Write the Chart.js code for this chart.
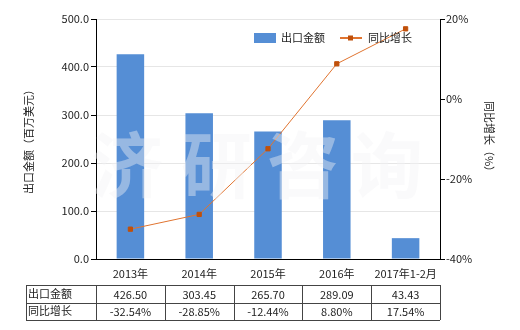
<!DOCTYPE html>
<html lang="zh">
<head>
    <meta charset="UTF-8">
    <script src="https://cdn.jsdelivr.net/npm/chart.js@4.4.0/dist/chart.umd.min.js"></script>
    <title>出口金额 / 同比增长</title>
    <style>
        html, body { margin: 0; padding: 0; background: #fff; }
        #wrap { width: 520px; height: 330px; }
    </style>
</head>
<body>
    <div id="wrap"><canvas id="chart" width="520" height="330"></canvas></div>
    <script>
        // data
        const years = ['2013年', '2014年', '2015年', '2016年', '2017年1-2月'];
        const exportValue = [426.50, 303.45, 265.70, 289.09, 43.43];
        const yoyGrowth = [-32.54, -28.85, -12.44, 8.80, 17.54];
        const valueLabels = ['426.50', '303.45', '265.70', '289.09', '43.43'];
        const growthLabels = ['-32.54%', '-28.85%', '-12.44%', '8.80%', '17.54%'];

        const FONT = "'Noto Sans CJK SC', 'DejaVu Sans', sans-serif";
        const BAR = '#558ED5';
        const LINE = '#E07430';
        const DOT = '#C0500A';

        // big faint watermark
        const watermark = {
            id: 'watermark',
            afterDatasetsDraw(chart) {
                const ctx = chart.ctx;
                ctx.save();
                ctx.font = 'bold 72px ' + FONT;
                ctx.fillStyle = 'rgba(242,242,245,0.42)';
                ctx.textAlign = 'center';
                ctx.textBaseline = 'middle';
                const xs = [127, 217, 303, 387];
                '济研咨询'.split('').forEach((c, i) => ctx.fillText(c, xs[i], 165));
                ctx.restore();
            }
        };

        // legend + data table under the chart
        const extras = {
            id: 'extras',
            afterDraw(chart) {
                const ctx = chart.ctx;
                const x = chart.scales.x;
                ctx.save();
                ctx.font = '11px ' + FONT;
                ctx.textBaseline = 'middle';
                ctx.fillStyle = '#222';

                // legend
                ctx.fillStyle = BAR;
                ctx.fillRect(254, 33, 22, 10);
                ctx.fillStyle = '#222';
                ctx.textAlign = 'left';
                ctx.fillText('出口金额', 281, 38);
                ctx.strokeStyle = LINE;
                ctx.lineWidth = 2;
                ctx.beginPath(); ctx.moveTo(340, 38); ctx.lineTo(362, 38); ctx.stroke();
                ctx.fillStyle = DOT;
                ctx.fillRect(348, 35.5, 5, 5);
                ctx.fillStyle = '#222';
                ctx.fillText('同比增长', 368, 38);

                // table
                const top = 285, rowH = 17.5, left = 26;
                const step = (x.right - x.left) / years.length;
                const cols = [left];
                for (let i = 0; i <= years.length; i++) cols.push(x.left + i * step);
                ctx.strokeStyle = '#444';
                ctx.lineWidth = 1;
                for (let r = 0; r <= 2; r++) {
                    const y = Math.round(top + r * rowH) + 0.5;
                    ctx.beginPath(); ctx.moveTo(left, y); ctx.lineTo(cols[cols.length - 1], y); ctx.stroke();
                }
                cols.forEach(cx => {
                    const xx = Math.round(cx) + 0.5;
                    ctx.beginPath(); ctx.moveTo(xx, top); ctx.lineTo(xx, top + 2 * rowH); ctx.stroke();
                });
                ctx.textAlign = 'left';
                ctx.fillText('出口金额', left + 2, top + rowH / 2);
                ctx.fillText('同比增长', left + 2, top + rowH * 1.5);
                ctx.textAlign = 'center';
                for (let i = 0; i < years.length; i++) {
                    const cx = x.getPixelForValue(i);
                    ctx.fillText(valueLabels[i], cx, top + rowH / 2 + 1);
                    ctx.fillText(growthLabels[i], cx, top + rowH * 1.5 + 1);
                }
                ctx.restore();
            }
        };

        const ctx = document.getElementById('chart').getContext('2d');
        const myChart = new Chart(ctx, {
            data: {
                labels: years,
                datasets: [{
                    type: 'line',
                    label: '同比增长',
                    data: yoyGrowth,
                    yAxisID: 'y1',
                    borderColor: LINE,
                    borderWidth: 1,
                    pointStyle: 'rect',
                    pointRadius: 3,
                    pointBackgroundColor: DOT,
                    pointBorderColor: DOT,
                    order: 0
                }, {
                    type: 'bar',
                    label: '出口金额',
                    data: exportValue,
                    yAxisID: 'y',
                    backgroundColor: BAR,
                    categoryPercentage: 1,
                    barPercentage: 0.4,
                    order: 1
                }]
            },
            options: {
                responsive: false,
                animation: false,
                layout: { padding: { left: 0, right: 0, top: 19, bottom: 45 } },
                plugins: { legend: { display: false }, tooltip: { enabled: false } },
                scales: {
                    x: {
                        offset: true,
                        grid: { display: false, drawOnChartArea: false, offset: true, tickLength: 5, color: '#000' },
                        border: { color: '#000' },
                        ticks: { color: '#222', font: { family: FONT, size: 11 }, padding: 3, maxRotation: 0 },
                        afterFit(s) { s.height = 26; }
                    },
                    y: {
                        position: 'left',
                        min: 0, max: 500,
                        grid: { color: '#e6e6e6', tickColor: '#000', tickLength: 5 },
                        border: { color: '#000' },
                        ticks: {
                            stepSize: 100,
                            color: '#222',
                            font: { family: FONT, size: 11 },
                            padding: 2,
                            callback: v => v.toFixed(1)
                        },
                        title: { display: true, text: '出口金额（百万美元）', color: '#222', font: { family: FONT, size: 11 }, padding: { top: 22, bottom: 0 } },
                        afterFit(s) { s.width = 96; }
                    },
                    y1: {
                        position: 'right',
                        min: -40, max: 20,
                        grid: { drawOnChartArea: false, tickColor: '#000', tickLength: 5 },
                        border: { color: '#000' },
                        ticks: {
                            stepSize: 20,
                            color: '#222',
                            font: { family: FONT, size: 11 },
                            padding: 1,
                            callback: v => v + '%'
                        },
                        title: { display: true, text: '同比增长（%）', color: '#222', font: { family: FONT, size: 11 }, padding: { top: 24, bottom: 0 } },
                        afterFit(s) { s.width = 80; }
                    }
                }
            },
            plugins: [watermark, extras]
        });
    </script>
</body>
</html>
